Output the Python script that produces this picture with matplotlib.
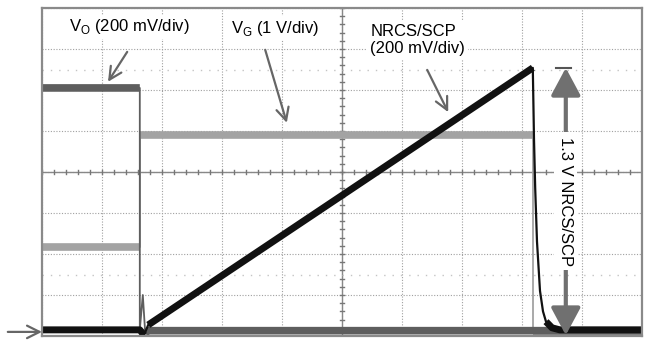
import numpy as np
import matplotlib
matplotlib.use("Agg")
import matplotlib.pyplot as plt

plt.rcParams['font.family'] = ['Liberation Sans', 'DejaVu Sans']

# scope traces in divisions (x: 0..10, y: 0..8 from bottom)
vg_x = [0.0, 1.63, 1.63, 8.18, 8.18, 10.0]
vg_y = [2.16, 2.16, 4.90, 4.90, 0.10, 0.10]

vo_x = [0.0, 1.63, 1.63, 1.68, 1.72, 1.78, 10.0]
vo_y = [6.05, 6.05, 0.15, 1.00, 0.08, 0.13, 0.13]

nrcs_x = [0.0, 1.63, 1.70, 1.77, 8.18, 8.18, 8.20, 8.22, 8.25, 8.30, 8.35, 8.40, 8.50, 8.63, 10.0]
nrcs_y = [0.15, 0.15, 0.02, 0.27, 6.54, 6.54, 4.80, 3.60, 2.30, 1.10, 0.60, 0.35, 0.20, 0.15, 0.15]

n_xdiv, n_ydiv = 10, 8


def trace(ax, x, y, color, thick, thin):
    # noisy flat/ramp parts show up as a thick band, fast edges as a thin line
    x = np.asarray(x, float)
    y = np.asarray(y, float)
    ax.plot(x, y, color=color, lw=thin)
    steep = np.abs(np.diff(y)) > 3 * np.maximum(np.abs(np.diff(x)), 1e-9)
    bx, by = [x[0]], [y[0]]
    for i, s in enumerate(steep):
        if s:
            bx += [np.nan, x[i + 1]]
            by += [np.nan, y[i + 1]]
        else:
            bx.append(x[i + 1])
            by.append(y[i + 1])
    ax.plot(bx, by, color=color, lw=thick, solid_joinstyle='round',
            solid_capstyle='butt')


fig = plt.figure(figsize=(6.46, 3.46), dpi=100)
ax = fig.add_axes([42/646, 1-336/346, 600/646, 328/346])
ax.set_xlim(0, n_xdiv)
ax.set_ylim(0, n_ydiv)

# graticule
ax.set_xticks(np.arange(n_xdiv + 1))
ax.set_yticks(np.arange(n_ydiv + 1))
ax.tick_params(length=0, labelbottom=False, labelleft=False)
ax.grid(True, linestyle=(0, (1, 1.5)), color='#a0a0a0', lw=0.8)
for s in ax.spines.values():
    s.set_color('#8a8a8a')
    s.set_linewidth(1.6)
ax.axhline(n_ydiv/2, color='#888888', lw=1.0)
ax.axvline(n_xdiv/2, color='#888888', lw=1.0)
for t in np.arange(0, n_xdiv + 0.01, 0.2):
    ax.plot([t, t], [n_ydiv/2 - 0.05, n_ydiv/2 + 0.05], color='#777777', lw=1.0)
for t in np.arange(0, n_ydiv + 0.01, 0.2):
    ax.plot([n_xdiv/2 - 0.04, n_xdiv/2 + 0.04], [t, t], color='#777777', lw=1.0)
# faint cursor dots
ax.axhline(6.5, color='#c4c4c4', lw=1.0, linestyle=(0, (1, 5)))
ax.axhline(1.5, color='#c4c4c4', lw=1.0, linestyle=(0, (1, 5)))

# traces
trace(ax, vg_x, vg_y, '#a3a3a3', 5.5, 1.3)
trace(ax, vo_x, vo_y, '#5e5e5e', 5.5, 1.3)
trace(ax, nrcs_x, nrcs_y, '#111111', 5.0, 1.6)

# labels
box = dict(facecolor='white', edgecolor='none', pad=2)
ax.text(1.46, 7.54, r'V$_\mathregular{O}$ (200 mV/div)', fontsize=12,
        ha='center', va='center', bbox=box)
ax.text(3.88, 7.51, r'V$_\mathregular{G}$ (1 V/div)', fontsize=12,
        ha='center', va='center', bbox=box)
ax.text(5.47, 7.22, 'NRCS/SCP\n(200 mV/div)', fontsize=12,
        ha='left', va='center', bbox=box)

arr = dict(arrowstyle='->,head_length=0.9,head_width=0.45', color='#666666',
           lw=1.6, shrinkA=0, shrinkB=0)
ax.annotate('', xy=(1.10, 6.20), xytext=(1.42, 6.93), arrowprops=arr)
ax.annotate('', xy=(4.08, 5.20), xytext=(3.72, 6.98), arrowprops=arr)
ax.annotate('', xy=(6.77, 5.46), xytext=(6.42, 6.49), arrowprops=arr)
ax.annotate('', xy=(0.0, 0.10), xytext=(-0.57, 0.10), arrowprops=arr,
            annotation_clip=False)

# 1.3 V span arrow
big = dict(arrowstyle='<|-|>,head_length=1.4,head_width=0.75', color='#707070',
           lw=3, shrinkA=0, shrinkB=0, mutation_scale=12)
ax.annotate('', xy=(8.73, 6.54), xytext=(8.73, 0.02), arrowprops=big)
ax.plot([8.57, 8.82], [6.54, 6.54], color='#555555', lw=1.5)
ax.text(8.73, 3.29, '1.3 V NRCS/SCP', fontsize=12, rotation=270,
        ha='center', va='center', bbox=dict(facecolor='white', edgecolor='none', pad=3))

fig.savefig('out.png', dpi=100)
